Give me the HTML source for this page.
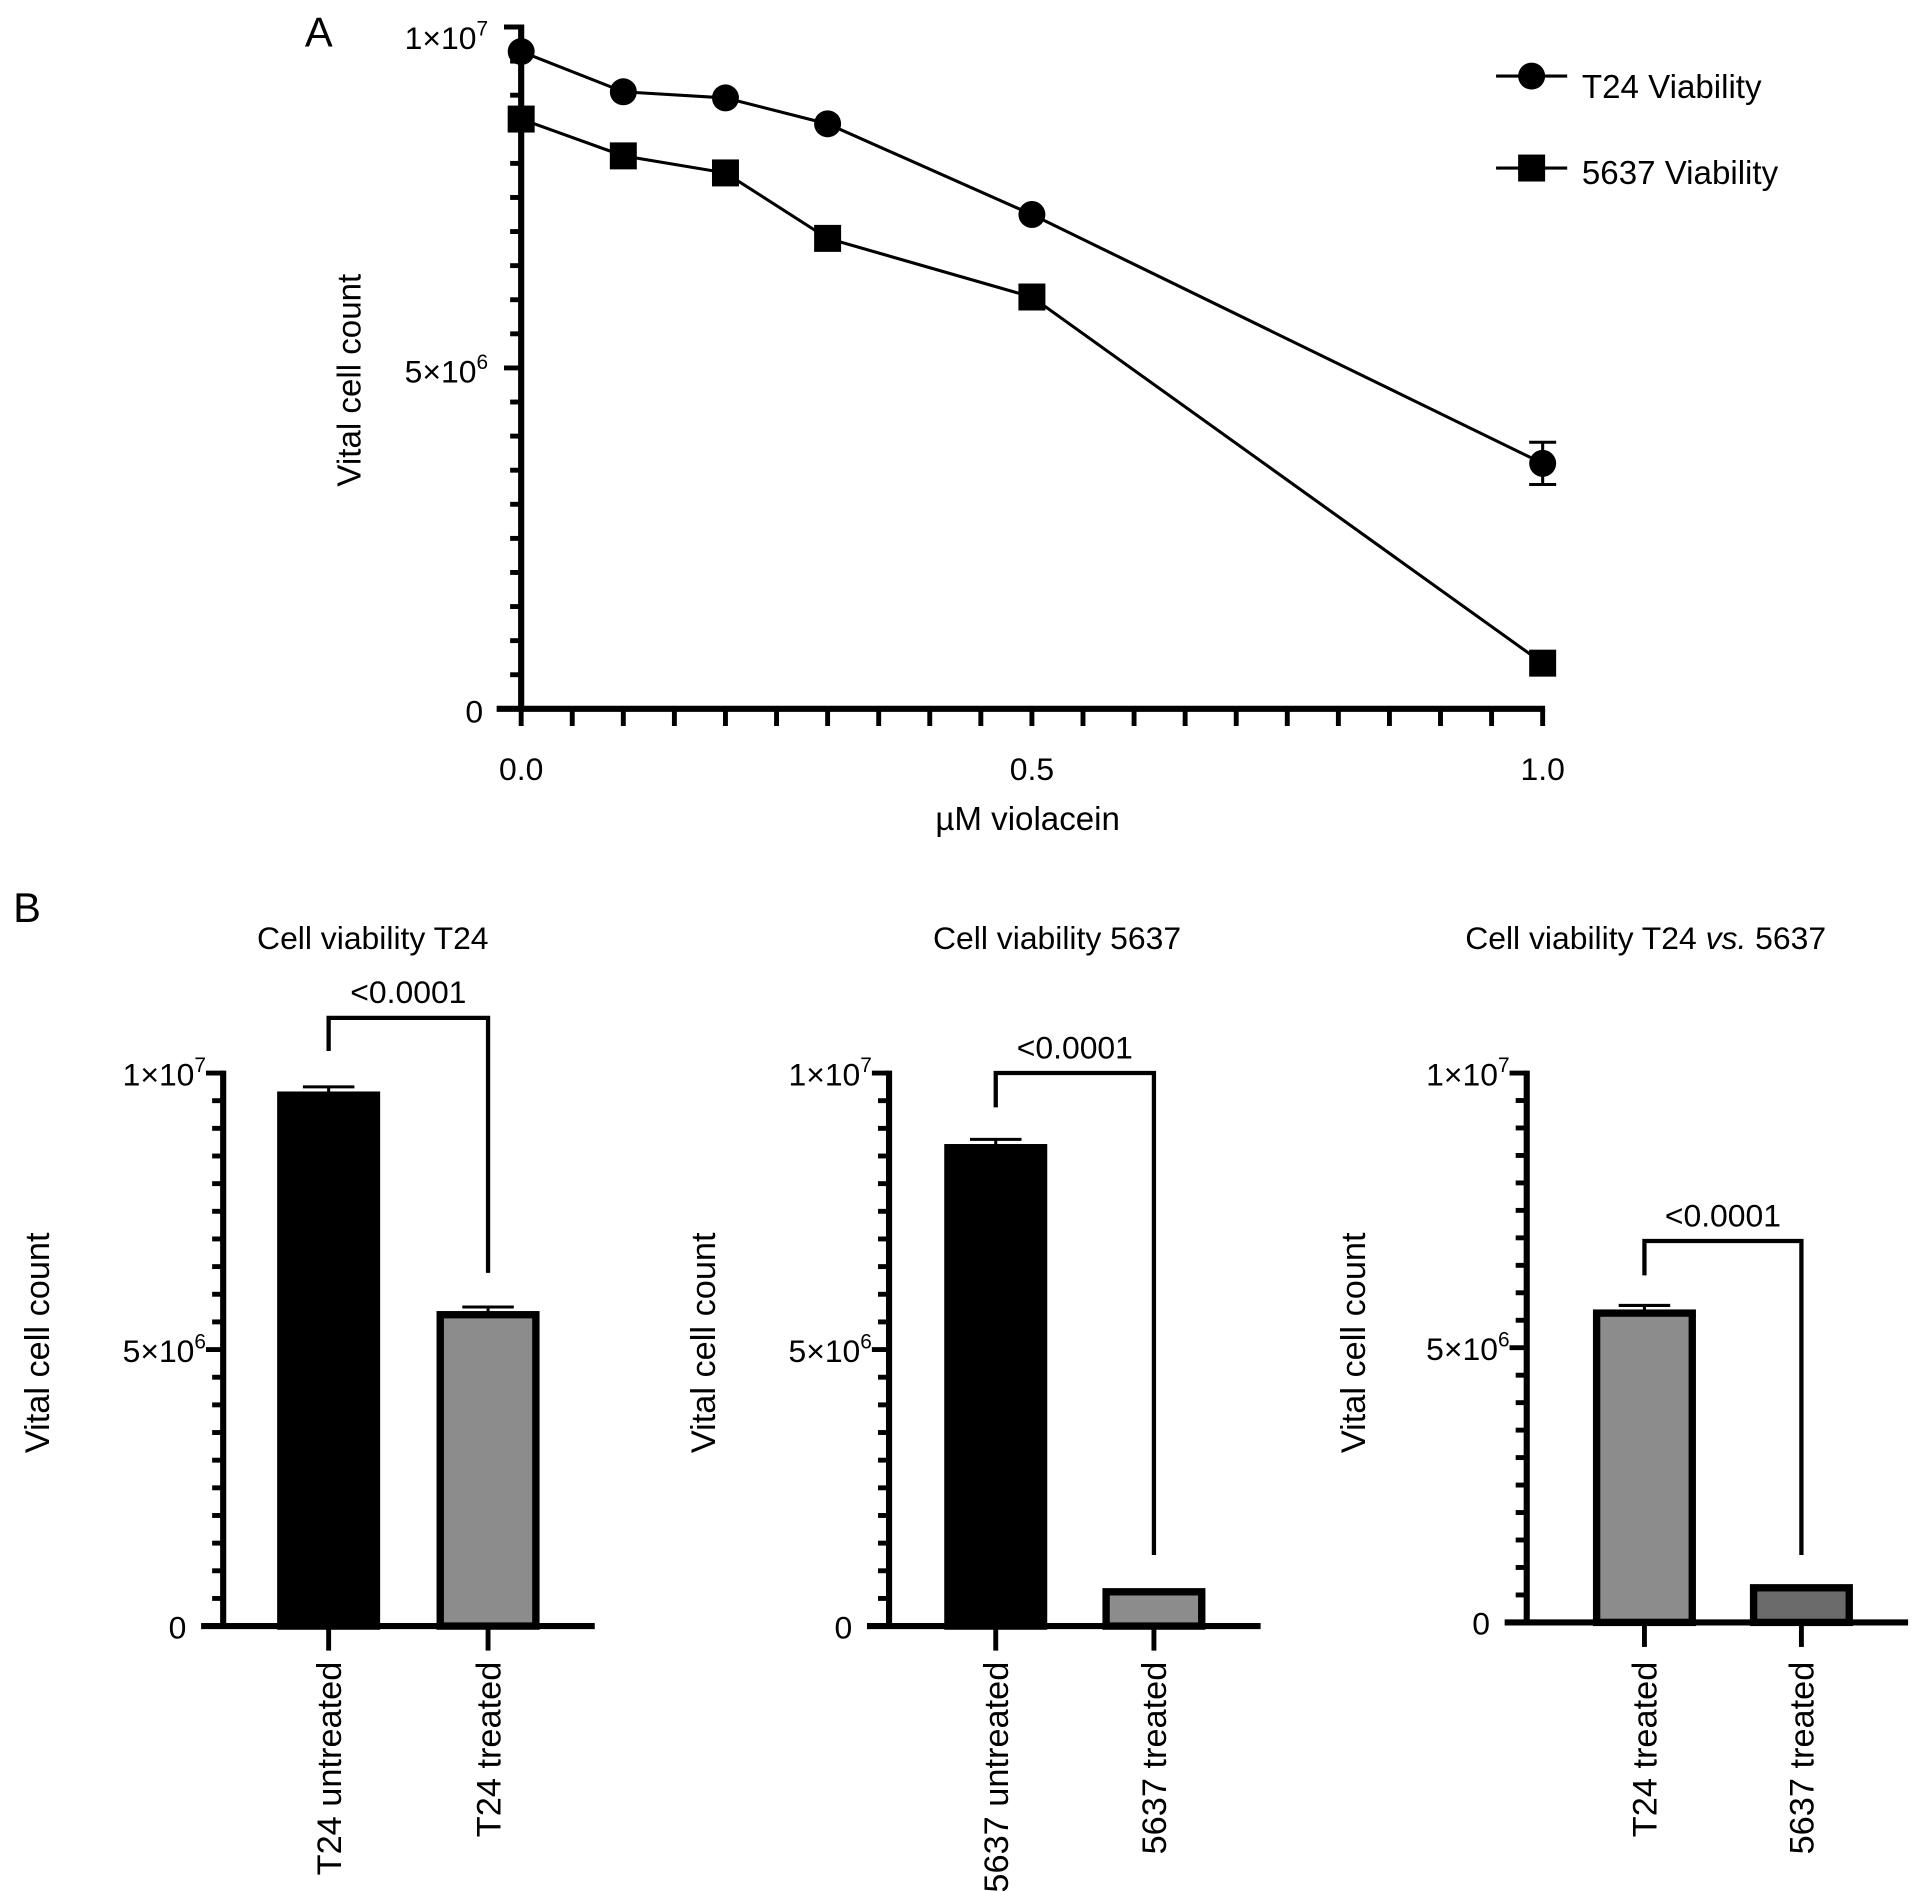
<!DOCTYPE html>
<html><head><meta charset="utf-8"><style>
html,body{margin:0;padding:0;background:#fff}
svg{display:block}
text{font-family:"Liberation Sans",Arial,sans-serif;fill:#000}
</style></head><body>
<svg id="fig" width="1913" height="1891" viewBox="0 0 1560 1542" xmlns="http://www.w3.org/2000/svg"></svg>
<script>
// Panel A data
const doses = [0, 0.1, 0.2, 0.3, 0.5, 1.0];
const t24Values = [9.64e6, 9.05e6, 8.96e6, 8.58e6, 7.25e6, 3.6e6];
const t24Err = [0, 0, 0, 0, 0, 0.31e6];
const c5637Values = [8.65e6, 8.11e6, 7.86e6, 6.9e6, 6.04e6, 0.67e6];
const c5637Err = [0, 0, 0, 0, 0, 0];
const xTickLabels = ["0.0", "0.5", "1.0"];
// Panel B data
const b1Categories = ["T24 untreated", "T24 treated"];
const b1Values = [9.6e6, 5.63e6];
const b1Err = [0.15e6, 0.14e6];
const b2Categories = ["5637 untreated", "5637 treated"];
const b2Values = [8.65e6, 0.62e6];
const b2Err = [0.15e6, 0.03e6];
const b3Categories = ["T24 treated", "5637 treated"];
const b3Values = [5.63e6, 0.63e6];
const b3Err = [0.14e6, 0.03e6];
const pLabel = "<0.0001";

const NS = "http://www.w3.org/2000/svg";
const svg = document.getElementById("fig");
function mk(tag, attrs, parent) {
  const e = document.createElementNS(NS, tag);
  for (const k in attrs) e.setAttribute(k, attrs[k]);
  (parent || svg).appendChild(e);
  return e;
}
function line(x1, y1, x2, y2, w, p) { return mk("line", {x1, y1, x2, y2, stroke: "#000", "stroke-width": w}, p); }
function txt(x, y, s, size, anchor, p) {
  const t = mk("text", {x, y, "font-size": size, "text-anchor": anchor || "middle"}, p);
  t.textContent = s; return t;
}
function sciLabel(x, y, mant, exp, p) {
  const t = mk("text", {x, y, "font-size": 26, "text-anchor": "end"}, p);
  const a = document.createElementNS(NS, "tspan"); a.textContent = mant + "\u00d710"; t.appendChild(a);
  const b = document.createElementNS(NS, "tspan"); b.setAttribute("dy", "-11"); b.setAttribute("font-size", "17"); b.textContent = exp; t.appendChild(b);
  return t;
}

// ---------- Panel A ----------
const gA = mk("g", {});


const ax = {x0: 425, x1: 1258, y0: 578, y1: 22};
const sxA = v => ax.x0 + v * (ax.x1 - ax.x0);
const syA = v => ax.y0 - v / 1e7 * (ax.y0 - ax.y1);
const lblA = txt(260, 38, "A", 34, "middle", gA);


const yAxA = line(ax.x0, ax.y0 + 2, ax.x0, ax.y1 - 2, 5, gA);


const xAxA = line(ax.x0 - 20, ax.y0, ax.x1 + 2, ax.y0, 5, gA);


for (let i = 1; i <= 20; i++) {
  const y = syA(i * 0.5e6);
  line(ax.x0, y, ax.x0 - (i % 10 === 0 ? 14 : 9), y, 4, gA);
}
for (let i = 0; i <= 20; i++) {
  const x = sxA(i * 0.05);
  line(x, ax.y0, x, ax.y0 + 14, 4, gA);
}
sciLabel(398, 40, "1", "7", gA);
sciLabel(398, 312, "5", "6", gA);
txt(394, 589, "0", 26, "end", gA);
xTickLabels.forEach((s, i) => {
  const t = txt(sxA(i * 0.5), 636, s, 26, "middle", gA);
  
  
});
const xt = txt(838, 677, "\u00b5M violacein", 27, "middle", gA);


const ytA = txt(0, 0, "Vital cell count", 27, "middle", gA);
ytA.setAttribute("transform", "translate(294,310) rotate(-90)");



function series(vals, errs, marker, name) {
  const g = mk("g", {}, gA);
  
  
  const pts = doses.map((d, i) => sxA(d) + "," + syA(vals[i])).join(" ");
  mk("polyline", {points: pts, fill: "none", stroke: "#000", "stroke-width": 2.5}, g);
  doses.forEach((d, i) => {
    const x = sxA(d), y = syA(vals[i]);
    if (errs[i] > 0) {
      const yt = syA(vals[i] + errs[i]), yb = syA(vals[i] - errs[i]);
      line(x, yt, x, yb, 2.5, g); line(x - 11, yt, x + 11, yt, 2.5, g); line(x - 11, yb, x + 11, yb, 2.5, g);
    }
    let m;
    if (marker === "circle") m = mk("circle", {cx: x, cy: y, r: 11, fill: "#000"}, g);
    else m = mk("rect", {x: x - 11, y: y - 11, width: 22, height: 22, fill: "#000"}, g);
    
    
  });
}
series(t24Values, t24Err, "circle", "t24-series");
series(c5637Values, c5637Err, "square", "5637-series");

const leg = mk("g", {}, gA);


const le1 = mk("g", {}, leg);


line(1220, 62, 1278, 62, 2.5, le1); mk("circle", {cx: 1249, cy: 62, r: 11, fill: "#000"}, le1);
txt(1290, 80, "T24 Viability", 27, "start", le1);
const le2 = mk("g", {}, leg);


line(1220, 137, 1278, 137, 2.5, le2); mk("rect", {x: 1238, y: 126, width: 22, height: 22, fill: "#000"}, le2);
txt(1290, 150, "5637 Viability", 27, "start", le2);

// ---------- Panel B ----------
const lblB = txt(22, 752, "B", 34, "middle");



function barChart(cfg) {
  const g = mk("g", {});
  
  
  const sy = v => cfg.y0 - v / 1e7 * (cfg.y0 - cfg.y1);
  const tt = txt(cfg.titleX, 774, "", 26, "middle", g);
  cfg.title.forEach(([s, it]) => {
    const ts = document.createElementNS(NS, "tspan"); ts.textContent = s;
    if (it) ts.setAttribute("font-style", "italic");
    tt.appendChild(ts);
  });
  
  
  const yt = txt(0, 0, "Vital cell count", 28, "middle", g);
  yt.setAttribute("transform", `translate(${cfg.ylabX},1095) rotate(-90)`);
  
  
  cfg.values.forEach((v, i) => {
    const cx = cfg.centers[i], w = 78, top = sy(v);
    const b = mk("rect", {x: cx - w / 2, y: top, width: w, height: cfg.y0 - top, fill: cfg.fills[i], stroke: "#000", "stroke-width": 6}, g);
    
    
    const ye = sy(v + cfg.errs[i]);
    line(cx, top, cx, ye, 2.5, g); line(cx - 21, ye, cx + 21, ye, 2.5, g);
    line(cx, cfg.y0, cx, cfg.y0 + 20, 4, g);
    const cl = txt(0, 0, cfg.categories[i], 28, "end", g);
    cl.setAttribute("transform", `translate(${cx + 10},1355) rotate(-90)`);
    
    
  });
  const ya = line(cfg.ax, cfg.y0 + 2, cfg.ax, cfg.y1 - 2, 5, g);
  
  
  const xa = line(cfg.ax - 18, cfg.y0, cfg.xEnd, cfg.y0, 5, g);
  
  
  for (let i = 1; i <= 20; i++) {
    const y = sy(i * 0.5e6);
    line(cfg.ax, y, cfg.ax - (i % 10 === 0 ? 14 : 9), y, 4, g);
  }
  sciLabel(cfg.ax - 14, cfg.y1 + 10, "1", "7", g);
  sciLabel(cfg.ax - 14, (cfg.y0 + cfg.y1) / 2 + 10, "5", "6", g);
  txt(cfg.ax - 30, cfg.y0 + 10, "0", 26, "end", g);
  const bk = mk("polyline", {points: `${cfg.centers[0]},${cfg.bL} ${cfg.centers[0]},${cfg.bTop} ${cfg.centers[1]},${cfg.bTop} ${cfg.centers[1]},${cfg.bR}`, fill: "none", stroke: "#000", "stroke-width": 3.5}, g);
  
  
  const pl = txt((cfg.centers[0] + cfg.centers[1]) / 2, cfg.bTop - 12, pLabel, 26, "middle", g);
  
  
}
barChart({name: "chart-t24", ax: 182, xEnd: 485, y0: 1326, y1: 875, centers: [268, 398], values: b1Values, errs: b1Err, categories: b1Categories,
  fills: ["#000", "#8c8c8c"], title: [["Cell viability T24", false]], titleX: 304, ylabX: 40, bL: 857, bTop: 830, bR: 1038});
barChart({name: "chart-5637", ax: 725, xEnd: 1028, y0: 1326, y1: 875, centers: [812, 941], values: b2Values, errs: b2Err, categories: b2Categories,
  fills: ["#000", "#8c8c8c"], title: [["Cell viability 5637", false]], titleX: 862, ylabX: 583, bL: 903, bTop: 875, bR: 1268});
barChart({name: "chart-t24-vs-5637", ax: 1245, xEnd: 1556, y0: 1323, y1: 875, centers: [1341, 1469], values: b3Values, errs: b3Err, categories: b3Categories,
  fills: ["#8c8c8c", "#6b6b6b"], title: [["Cell viability T24 ", false], ["vs.", true], [" 5637", false]], titleX: 1342, ylabX: 1113, bL: 1040, bTop: 1012, bR: 1268});
</script>
</body></html>
